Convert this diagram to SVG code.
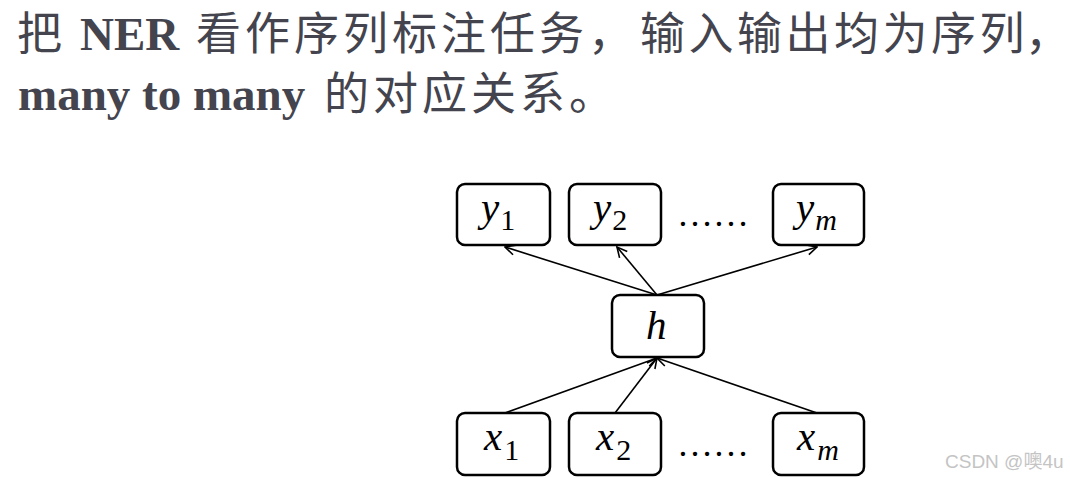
<svg xmlns="http://www.w3.org/2000/svg" width="1070" height="478" viewBox="0 0 1070 478">
<style>
.t{fill:#44444e;font-size:47px}
.cjk{font-family:"Noto Sans CJK SC",sans-serif;font-size:45px;letter-spacing:4px}
.b{font-family:"Liberation Serif",serif;font-weight:bold}
.box{fill:#fff;stroke:#000;stroke-width:2.5}
.m{font-family:"Liberation Serif",serif;font-style:italic;font-size:41px;fill:#000}
.s{font-style:normal;font-size:30px}
.si{font-size:30px}
.dots{font-family:"Liberation Serif",serif;font-size:36px;fill:#000}
.c{stroke:#000;stroke-width:1.6;fill:none}
</style>
<defs>
<marker id="ah" viewBox="0 0 12 12" refX="11" refY="6" markerWidth="12" markerHeight="12" markerUnits="userSpaceOnUse" orient="auto">
<path d="M1,1 L11,6 L1,11" fill="none" stroke="#000" stroke-width="1.6"/>
</marker>
</defs>
<rect width="1070" height="478" fill="#fff"/>
<g id="title">
<text class="t cjk" x="17" y="50">把</text>
<text class="t b" x="80" y="50">NER</text>
<text class="t cjk" x="196" y="50">看作序列标注任务，</text>
<text class="t cjk" x="640" y="50" style="letter-spacing:3.5px">输入输出均为序<tspan style="letter-spacing:0">列</tspan></text>
<text class="t cjk" x="1025" y="50" style="letter-spacing:0">，</text>
<text class="t b" x="18" y="110">many to many</text>
<text class="t cjk" x="324" y="110">的对应关系。</text>
</g>
<g id="connectors">
<line class="c" x1="657" y1="295" x2="505" y2="247" marker-end="url(#ah)"/>
<line class="c" x1="657" y1="295" x2="617" y2="247" marker-end="url(#ah)"/>
<line class="c" x1="657" y1="295" x2="817" y2="247" marker-end="url(#ah)"/>
<line class="c" x1="505" y1="413" x2="657" y2="358" marker-end="url(#ah)"/>
<line class="c" x1="615" y1="413" x2="657" y2="358" marker-end="url(#ah)"/>
<line class="c" x1="817" y1="413" x2="657" y2="358" marker-end="url(#ah)"/>
</g>
<g id="y1"><rect class="box" x="457" y="184" width="93" height="61" rx="8"/><text class="m" x="481" y="221">y<tspan class="s" dx="1" dy="9">1</tspan></text></g>
<g id="y2"><rect class="box" x="569" y="184" width="92" height="61" rx="8"/><text class="m" x="593" y="221">y<tspan class="s" dx="1" dy="9">2</tspan></text></g>
<g id="ydots"><text class="dots" x="713" y="226" text-anchor="middle">……</text></g>
<g id="ym"><rect class="box" x="773" y="184" width="91" height="61" rx="8"/><text class="m" x="796" y="221">y<tspan class="si" dx="1" dy="9">m</tspan></text></g>
<g id="h"><rect class="box" x="612" y="295" width="92" height="62" rx="8"/><text class="m" x="646" y="339">h</text></g>
<g id="x1"><rect class="box" x="457" y="413" width="93" height="62" rx="8"/><text class="m" x="484" y="450">x<tspan class="s" dx="2" dy="10">1</tspan></text></g>
<g id="x2"><rect class="box" x="569" y="413" width="92" height="62" rx="8"/><text class="m" x="596" y="450">x<tspan class="s" dx="2" dy="10">2</tspan></text></g>
<g id="xdots"><text class="dots" x="713" y="456" text-anchor="middle">……</text></g>
<g id="xm"><rect class="box" x="773" y="413" width="91" height="62" rx="8"/><text class="m" x="797" y="450">x<tspan class="si" dx="2" dy="10">m</tspan></text></g>
<g id="watermark"><text x="945" y="468" font-family="Liberation Sans, 'Noto Sans CJK SC', sans-serif" font-size="19" fill="#c4c4c4">CSDN @噢4u</text></g>
</svg>
